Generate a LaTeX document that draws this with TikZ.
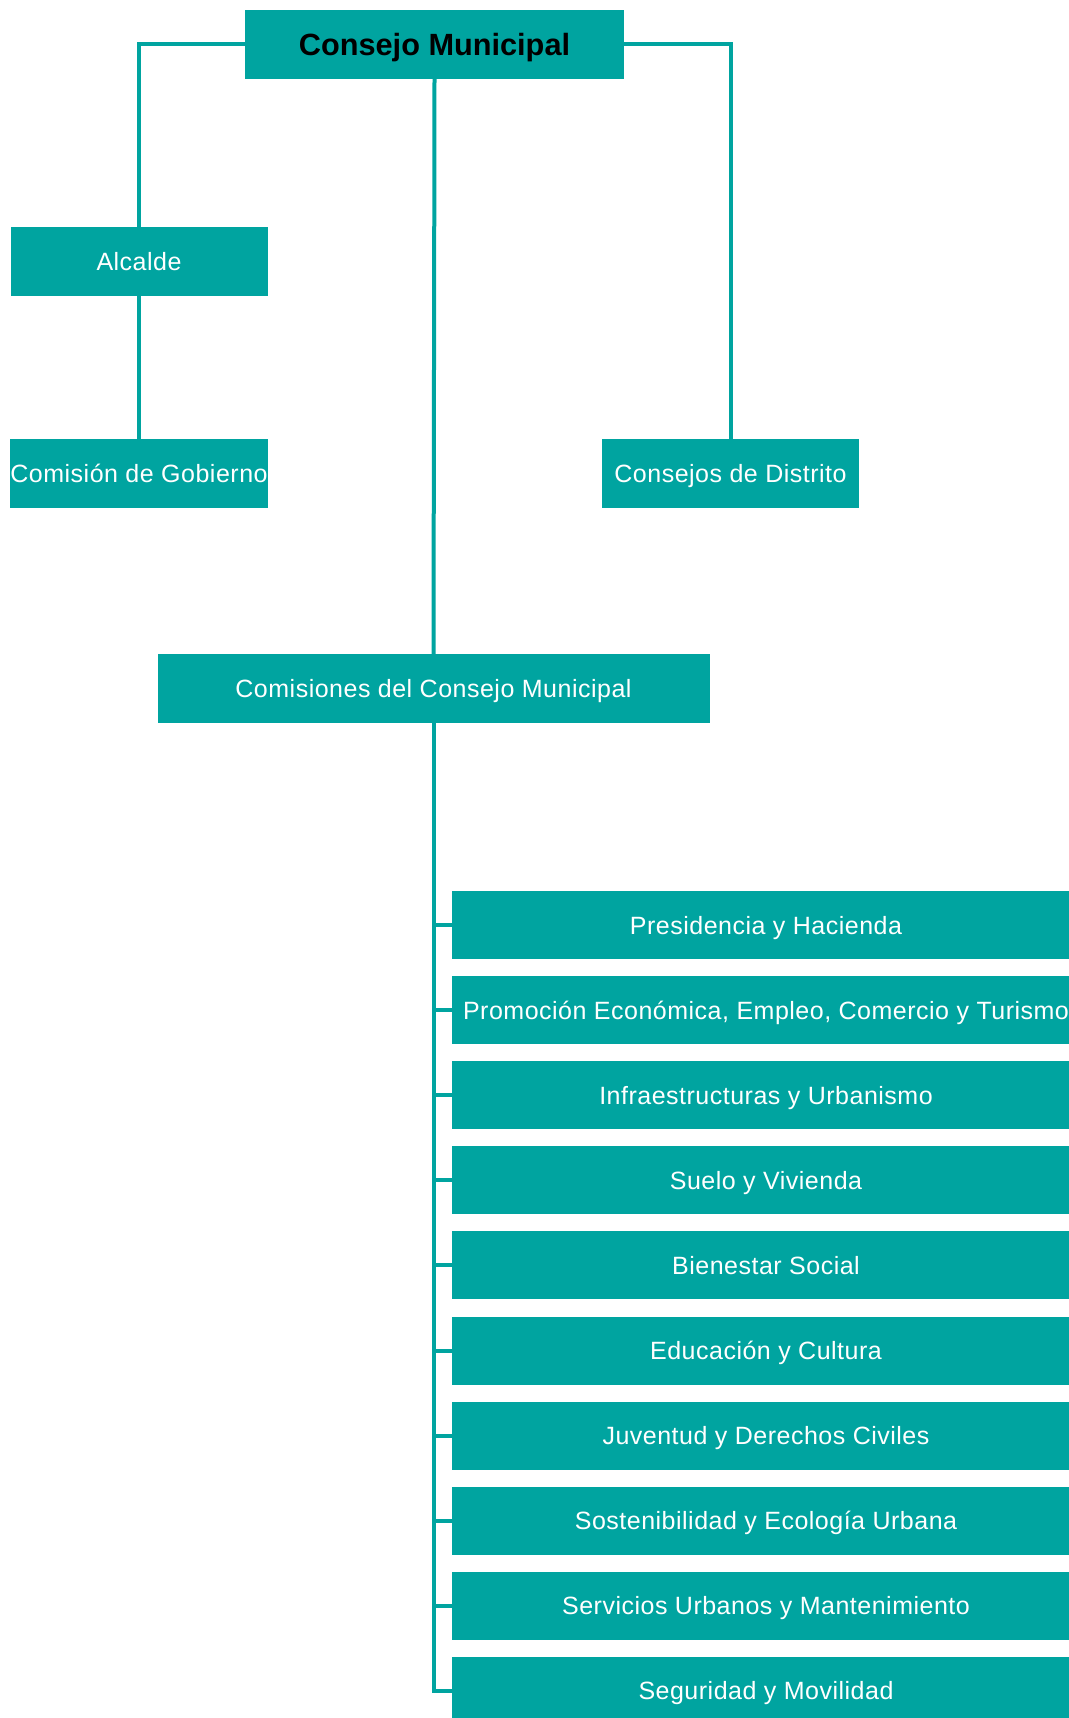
\documentclass[tikz,border=0pt]{standalone}
\usepackage{fontspec}
\setmainfont{Liberation Sans}[LetterSpace=2]
\definecolor{orgteal}{RGB}{0,164,160}

\begin{document}
\begin{tikzpicture}[x=1pt,y=-1pt,
  box/.style={fill=orgteal, inner sep=0pt, text=white,
    font=\fontsize{25}{30}\selectfont, text height=18pt, text depth=0pt,
    minimum height=69pt},
  small/.style={box, minimum width=257pt},
  commission/.style={box, minimum width=628pt, minimum height=68pt},
  link/.style={draw=orgteal, line width=4pt}]
\useasboundingbox (0,0) rectangle (1068,1718);

% governing bodies
\node[box, minimum width=379pt, text=black, text height=22pt,
      font=\fontsize{30.7}{36}\bfseries\selectfont\addfontfeatures{LetterSpace=0}]
      (cm) at (434.5,44.5) {Consejo Municipal};
\node[small] (alc) at (139,261.5) {Alcalde};
\node[small] (cg) at (139,473.5) {Comisión de Gobierno};
\node[small] (cd) at (730.5,473.5) {Consejos de Distrito};
\node[box, minimum width=552pt] (ccm) at (433.5,688.5) {Comisiones del Consejo Municipal};

% council commissions
\foreach \name [count=\i from 0] in {
    Presidencia y Hacienda,
    {Promoción Económica, Empleo, Comercio y Turismo},
    Infraestructuras y Urbanismo,
    Suelo y Vivienda,
    Bienestar Social,
    Educación y Cultura,
    Juventud y Derechos Civiles,
    Sostenibilidad y Ecología Urbana,
    Servicios Urbanos y Mantenimiento,
    Seguridad y Movilidad}
  \node[commission] (c\i) at (766,925+85.1*\i) {\name};

% connectors
\draw[link] (cm.west) -| (alc.north);
\draw[link] (cm.east) -| (cd.north);
\draw[link] (alc.south) -- (cg.north);
\draw[link] (cm.south) -- (ccm.north);
\draw[link] (ccm.south) |- (c9.west);
\foreach \i in {0,...,8}
  \draw[link] (ccm.south |- c\i.west) -- (c\i.west);
\end{tikzpicture}
\end{document}
